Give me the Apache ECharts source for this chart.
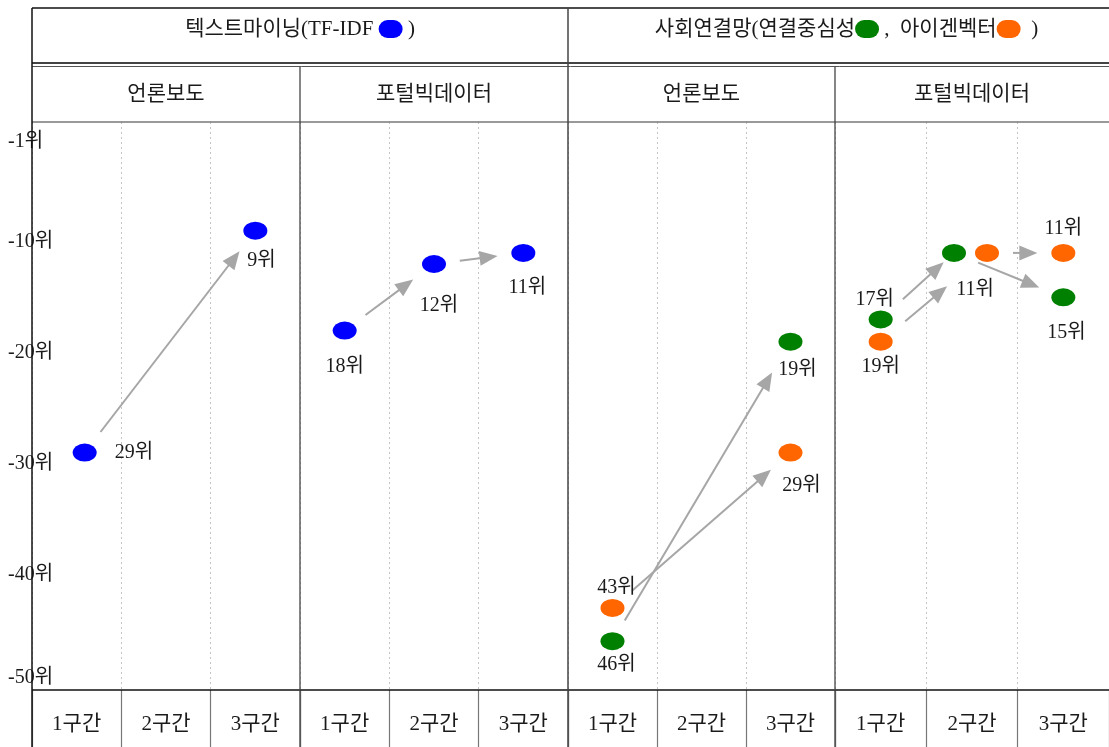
<!DOCTYPE html>
<html>
<head>
<meta charset="utf-8">
<script src="https://cdn.jsdelivr.net/npm/echarts@6/dist/echarts.min.js"></script>
<style>
  html, body { margin: 0; padding: 0; background: #fff; }
  #chart { width: 1109px; height: 747px; }
</style>
</head>
<body>
<div id="chart"></div>
<script>
// ---- data ----
const periods = ['1구간', '2구간', '3구간'];
const panelNames = ['언론보도', '포털빅데이터', '언론보도', '포털빅데이터'];
const yTickRanks = [1, 10, 20, 30, 40, 50];

// rank of the keyword in each period (null = not ranked)
const tfidfNews    = [29, null, 9];
const tfidfPortal  = [18, 12, 11];
const degreeNews   = [46, null, 19];
const eigenNews    = [43, null, 29];
const degreePortal = [17, 11, 15];
const eigenPortal  = [19, 11, 11];

// ---- layout ----
const X_EDGES = [32, 300, 568, 835, 1109];
const Y_TOP = 8, Y_HEAD1 = 63, Y_HEAD2 = 122, Y_PLOT_BOTTOM = 690, Y_END = 747;
const FONT = "'Liberation Serif', 'Noto Sans CJK KR', serif";
const TEXT = '#1a1a1a';
const COLORS = { tfidf: '#0000FF', degree: '#008000', eigen: '#FF6600' };
const ARROW = '#A6A6A6';

const seriesDefs = [
  { key: 'tfidfNews',    panel: 0, kind: 'tfidf',  ranks: tfidfNews },
  { key: 'tfidfPortal',  panel: 1, kind: 'tfidf',  ranks: tfidfPortal },
  { key: 'degreeNews',   panel: 2, kind: 'degree', ranks: degreeNews },
  { key: 'eigenNews',    panel: 2, kind: 'eigen',  ranks: eigenNews },
  { key: 'degreePortal', panel: 3, kind: 'degree', ranks: degreePortal },
  { key: 'eigenPortal',  panel: 3, kind: 'eigen',  ranks: eigenPortal }
];

// label placement and horizontal nudge of each marker
const pointStyle = {
  tfidfNews:    [{ pos: 'right', d: 18, shift: 8 }, null, { pos: 'bottom', d: 11, off: [6, 0] }],
  tfidfPortal:  [{ pos: 'bottom', d: 17 }, { pos: 'bottom', d: 23, off: [5, 0] }, { pos: 'bottom', d: 16, off: [4, 0] }],
  degreeNews:   [{ pos: 'bottom', d: 5, off: [4, 0] }, null, { pos: 'bottom', d: 9, off: [7, 0] }],
  eigenNews:    [{ pos: 'top', d: 1, off: [4, 0] }, null, { pos: 'bottom', d: 14, off: [11, 0] }],
  degreePortal: [{ pos: 'top', d: 1, off: [-6, 0] }, { hide: true, shift: -18 }, { pos: 'bottom', d: 16, off: [3, 0] }],
  eigenPortal:  [{ pos: 'bottom', d: 6 }, { pos: 'bottom', d: 18, off: [-12, 0], shift: 15 }, { pos: 'top', d: 5 }]
};
// gap left between arrow ends and markers [start, end]
const arrowTrim = {
  'degreeNews:0': [24, 36],
  'degreePortal:0': [30, 14],
  'eigenPortal:0': [32, 52]
};
const DEFAULT_TRIM = [26, 26];

const chart = echarts.init(document.getElementById('chart'), null, { renderer: 'canvas' });

const grids = [], xAxes = [], yAxes = [], series = [];
for (let p = 0; p < 4; p++) {
  grids.push({
    left: X_EDGES[p], width: X_EDGES[p + 1] - X_EDGES[p],
    top: Y_HEAD2, height: Y_PLOT_BOTTOM - Y_HEAD2
  });
  xAxes.push({
    type: 'category', gridIndex: p, data: periods, boundaryGap: true, position: 'bottom',
    axisLine: { show: false, onZero: false },
    axisTick: { show: true, inside: false, length: Y_END - Y_PLOT_BOTTOM, lineStyle: { color: '#777', width: 1.2 } },
    axisLabel: { show: true, margin: 24, fontSize: 21, fontFamily: FONT, color: TEXT },
    splitLine: { show: true, lineStyle: { type: [2, 3], color: '#c4c4c4', width: 1 } }
  });
  yAxes.push({
    type: 'value', gridIndex: p, min: -50.4, max: 0.8,
    axisLine: { show: false }, axisTick: { show: false }, splitLine: { show: false },
    axisLabel: p === 0 ? {
      show: true,
      customValues: yTickRanks.map(r => -r),
      align: 'left', margin: 24,
      fontSize: 20, fontFamily: FONT, color: TEXT,
      formatter: v => (v === -50 ? '{low|' + v + '위}' : v + '위'),
      rich: { low: { fontSize: 20, fontFamily: FONT, color: TEXT, padding: [0, 0, 16, 0] } }
    } : { show: false }
  });
}

function shiftOf(key, i) {
  const s = pointStyle[key] && pointStyle[key][i];
  return s && s.shift ? s.shift : 0;
}

// markers
seriesDefs.forEach(def => {
  const data = [];
  def.ranks.forEach((r, i) => {
    if (r == null) return;
    const s = pointStyle[def.key][i] || {};
    data.push({
      value: [i, -r],
      symbolOffset: [shiftOf(def.key, i), 0],
      label: {
        show: !s.hide,
        position: s.pos || 'bottom',
        distance: s.d != null ? s.d : 8,
        offset: s.off || [0, 0]
      }
    });
  });
  series.push({
    type: 'scatter', name: def.key,
    xAxisIndex: def.panel, yAxisIndex: def.panel,
    symbol: 'circle', symbolSize: [24, 18],
    itemStyle: { color: COLORS[def.kind], opacity: 1 },
    label: {
      fontSize: 20, fontFamily: FONT, color: TEXT,
      formatter: p => (-p.value[1]) + '위'
    },
    emphasis: { disabled: true },
    z: 5,
    data
  });
});

// arrows joining consecutive ranked periods of each measure
for (let p = 0; p < 4; p++) {
  const list = [];
  seriesDefs.filter(d => d.panel === p).forEach(def => {
    let prev = null;
    def.ranks.forEach((r, i) => {
      if (r == null) return;
      if (prev != null) {
        const trim = arrowTrim[def.key + ':' + prev] || DEFAULT_TRIM;
        list.push({
          i1: prev, r1: def.ranks[prev], s1: shiftOf(def.key, prev),
          i2: i, r2: r, s2: shiftOf(def.key, i),
          t0: trim[0], t1: trim[1]
        });
      }
      prev = i;
    });
  });
  series.push({
    type: 'custom', xAxisIndex: p, yAxisIndex: p, z: 3, silent: true,
    encode: { x: [0, 2], y: [1, 3] },
    data: list.map(a => [a.i1, -a.r1, a.i2, -a.r2]),
    renderItem: (params, api) => {
      const a = list[params.dataIndex];
      const p1 = api.coord([a.i1, -a.r1]); p1[0] += a.s1;
      const p2 = api.coord([a.i2, -a.r2]); p2[0] += a.s2;
      const dx = p2[0] - p1[0], dy = p2[1] - p1[1];
      const L = Math.hypot(dx, dy);
      const ux = dx / L, uy = dy / L;
      const start = [p1[0] + ux * a.t0, p1[1] + uy * a.t0];
      const tip = [p2[0] - ux * a.t1, p2[1] - uy * a.t1];
      const HL = 18, HW = 7.5;
      const base = [tip[0] - ux * HL, tip[1] - uy * HL];
      return {
        type: 'group',
        children: [
          { type: 'line', shape: { x1: start[0], y1: start[1], x2: base[0] + ux * 2, y2: base[1] + uy * 2 },
            style: { stroke: ARROW, lineWidth: 2 } },
          { type: 'polygon',
            shape: { points: [tip, [base[0] - uy * HW, base[1] + ux * HW], [base[0] + uy * HW, base[1] - ux * HW]] },
            style: { fill: ARROW } }
        ]
      };
    }
  });
}

// table frame and header cells
function hline(y, x1, x2, color, w) {
  return { type: 'line', silent: true, z: 10, shape: { x1, y1: y, x2, y2: y }, style: { stroke: color, lineWidth: w } };
}
function vline(x, y1, y2, color, w) {
  return { type: 'line', silent: true, z: 10, shape: { x1: x, y1, x2: x, y2 }, style: { stroke: color, lineWidth: w } };
}
const xL = X_EDGES[0], xR = X_EDGES[4];
const graphics = [
  hline(Y_TOP, xL, xR, '#111', 1.5),
  hline(Y_HEAD1, xL, xR, '#444', 2.2),
  hline(Y_HEAD1 + 3.5, xL, xR, '#555', 1),
  hline(Y_HEAD2, xL, xR, '#777', 1.5),
  hline(Y_PLOT_BOTTOM, xL, xR, '#111', 1.5),
  vline(xL, Y_TOP, Y_END, '#111', 1.5),
  vline(X_EDGES[2], Y_TOP, Y_END, '#444', 1.5),
  vline(X_EDGES[1], Y_HEAD1 + 3.5, Y_END, '#444', 1.3),
  vline(X_EDGES[3], Y_HEAD1 + 3.5, Y_END, '#444', 1.3)
];

const dotRich = color => ({ width: 24, height: 18, backgroundColor: color, borderRadius: 12 });
const baseText = { fontSize: 21, fontFamily: FONT, fill: TEXT };
graphics.push({
  type: 'text', silent: true, z: 10,
  x: (X_EDGES[0] + X_EDGES[2]) / 2, y: 29,
  style: Object.assign({}, baseText, {
    text: '텍스트마이닝(TF-IDF {b| } )',
    align: 'center', verticalAlign: 'middle',
    rich: { b: dotRich(COLORS.tfidf) }
  })
});
graphics.push({
  type: 'text', silent: true, z: 10,
  x: (X_EDGES[2] + X_EDGES[4]) / 2 + 8, y: 29,
  style: Object.assign({}, baseText, {
    text: '사회연결망(연결중심성{g| } ,  아이겐벡터{o| }  )',
    align: 'center', verticalAlign: 'middle',
    rich: { g: dotRich(COLORS.degree), o: dotRich(COLORS.eigen) }
  })
});
panelNames.forEach((name, p) => {
  graphics.push({
    type: 'text', silent: true, z: 10,
    x: (X_EDGES[p] + X_EDGES[p + 1]) / 2, y: (Y_HEAD1 + 3.5 + Y_HEAD2) / 2,
    style: Object.assign({}, baseText, { text: name, align: 'center', verticalAlign: 'middle' })
  });
});

chart.setOption({
  animation: false,
  backgroundColor: '#fff',
  grid: grids,
  xAxis: xAxes,
  yAxis: yAxes,
  series,
  graphic: graphics
});
</script>
</body>
</html>
